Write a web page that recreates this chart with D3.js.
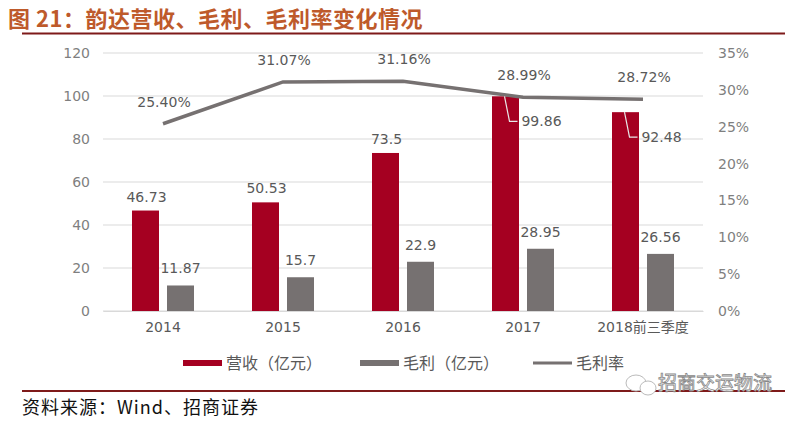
<!DOCTYPE html>
<html>
<head>
<meta charset="utf-8">
<script src="https://cdn.jsdelivr.net/npm/d3@7"></script>
<style>
  body { margin: 0; background: #fff; }
  svg text { font-family: "DejaVu Sans", "Noto Sans CJK SC", sans-serif; }
</style>
</head>
<body>
<div id="chart"></div>
<script>
// data
const years = ["2014", "2015", "2016", "2017", "2018前三季度"];
const revenue = [46.73, 50.53, 73.5, 99.86, 92.48];
const grossProfit = [11.87, 15.7, 22.9, 28.95, 26.56];
const grossMargin = [25.40, 31.07, 31.16, 28.99, 28.72];
const leftTicks = [0, 20, 40, 60, 80, 100, 120];
const rightTicks = [0, 5, 10, 15, 20, 25, 30, 35];

const W = 800, H = 422;
const red = "#A50021", gray = "#767171", lineGray = "#767171";
const cjk = '"Noto Sans CJK SC", sans-serif';

const svg = d3.select("#chart").append("svg")
  .attr("width", W).attr("height", H);

// title
svg.append("text")
  .attr("x", 8).attr("y", 17)
  .attr("dominant-baseline", "central")
  .attr("fill", "#BE5A2B")
  .attr("font-size", 22).attr("font-weight", "bold")
  .attr("letter-spacing", 0.5)
  .style("font-family", cjk)
  .text("图 21：韵达营收、毛利、毛利率变化情况");

svg.append("line")
  .attr("x1", 22).attr("x2", 785).attr("y1", 33.5).attr("y2", 33.5)
  .attr("stroke", "#7E1A1A").attr("stroke-width", 2);

const x = d3.scaleBand().domain(years).range([103, 703]);
const y = d3.scaleLinear().domain([0, 120]).range([311, 53]);
const y2 = d3.scaleLinear().domain([0, 35]).range([311, 53]);

// gridlines
svg.append("g").selectAll("line")
  .data(leftTicks).enter().append("line")
  .attr("x1", 103).attr("x2", 703)
  .attr("y1", d => y(d)).attr("y2", d => y(d))
  .attr("stroke", "#d9d9d9").attr("stroke-width", 1);

// left axis
const yAxis = svg.append("g")
  .attr("transform", "translate(90,0)")
  .call(d3.axisLeft(y).tickValues(leftTicks).tickSize(0).tickPadding(0));
yAxis.select(".domain").remove();
yAxis.selectAll("text").attr("fill", "#7f7f7f").attr("font-size", 14);

// right axis
const y2Axis = svg.append("g")
  .attr("transform", "translate(718,0)")
  .call(d3.axisRight(y2).tickValues(rightTicks).tickSize(0).tickPadding(0)
    .tickFormat(d => d + "%"));
y2Axis.select(".domain").remove();
y2Axis.selectAll("text").attr("fill", "#7f7f7f").attr("font-size", 14);

// x labels
const xAxis = svg.append("g")
  .attr("transform", "translate(0,311)")
  .call(d3.axisBottom(x).tickSize(0).tickPadding(11));
xAxis.select(".domain").attr("stroke", "#d9d9d9");
xAxis.selectAll("text").attr("fill", "#595959").attr("font-size", 14);

const barW = 27;
const off = 17.5;

// revenue bars
svg.append("g").selectAll("rect")
  .data(revenue).enter().append("rect")
  .attr("x", (d, i) => x(years[i]) + x.bandwidth() / 2 - off - barW / 2)
  .attr("y", d => y(d))
  .attr("width", barW)
  .attr("height", d => y(0) - y(d))
  .attr("fill", red);

// gross profit bars
svg.append("g").selectAll("rect")
  .data(grossProfit).enter().append("rect")
  .attr("x", (d, i) => x(years[i]) + x.bandwidth() / 2 + off - barW / 2)
  .attr("y", d => y(d))
  .attr("width", barW)
  .attr("height", d => y(0) - y(d))
  .attr("fill", gray);

// margin line
const line = d3.line()
  .x((d, i) => x(years[i]) + x.bandwidth() / 2)
  .y(d => y2(d));
svg.append("path")
  .datum(grossMargin)
  .attr("d", line)
  .attr("fill", "none")
  .attr("stroke", lineGray)
  .attr("stroke-width", 3.5);

const labelColor = "#595959";

// revenue labels: above bar, or beside it with a leader when it hits the line
revenue.forEach((d, i) => {
  const cx = x(years[i]) + x.bandwidth() / 2 - off;
  if (d > 90) {
    const ly = y(d) + 30;
    svg.append("path")
      .attr("d", `M${cx - 1},${y(d)} L${cx + 4},${ly - 5} L${cx + 12},${ly - 5}`)
      .attr("fill", "none").attr("stroke", "#e8e8e8").attr("stroke-width", 1.2);
    svg.append("text")
      .attr("x", cx + 36).attr("y", ly)
      .attr("text-anchor", "middle")
      .attr("fill", labelColor).attr("font-size", 14)
      .text(d);
  } else {
    svg.append("text")
      .attr("x", cx + 1).attr("y", y(d) - 9)
      .attr("text-anchor", "middle")
      .attr("fill", labelColor).attr("font-size", 14)
      .text(d);
  }
});

grossProfit.forEach((d, i) => {
  const cx = x(years[i]) + x.bandwidth() / 2 + off;
  svg.append("text")
    .attr("x", cx).attr("y", y(d) - 12)
    .attr("text-anchor", "middle")
    .attr("fill", labelColor).attr("font-size", 14)
    .text(d);
});

grossMargin.forEach((d, i) => {
  const cx = x(years[i]) + x.bandwidth() / 2;
  svg.append("text")
    .attr("x", cx + 1).attr("y", y2(d) - 17)
    .attr("text-anchor", "middle")
    .attr("fill", labelColor).attr("font-size", 14)
    .text(d.toFixed(2) + "%");
});

// legend
const legend = [
  { label: "营收（亿元）", color: red, x: 183, h: 6 },
  { label: "毛利（亿元）", color: gray, x: 360, h: 6 },
  { label: "毛利率", color: lineGray, x: 533, h: 3 }
];
const lg = svg.append("g").selectAll("g")
  .data(legend).enter().append("g")
  .attr("transform", d => `translate(${d.x},363)`);
lg.append("rect")
  .attr("x", 0).attr("y", d => -d.h / 2)
  .attr("width", 39).attr("height", d => d.h)
  .attr("fill", d => d.color);
lg.append("text")
  .attr("x", 43).attr("y", 6)
  .attr("fill", labelColor).attr("font-size", 16)
  .style("font-family", cjk)
  .text(d => d.label);

// bottom rule and source
svg.append("line")
  .attr("x1", 22).attr("x2", 785).attr("y1", 391).attr("y2", 391)
  .attr("stroke", "#7E1A1A").attr("stroke-width", 2);

svg.append("text")
  .attr("x", 22).attr("y", 414)
  .attr("fill", "#111").attr("font-size", 18)
  .attr("letter-spacing", 1)
  .style("font-family", cjk)
  .text("资料来源：Wind、招商证券");

// watermark
svg.append("ellipse")
  .attr("cx", 636).attr("cy", 383).attr("rx", 10).attr("ry", 8)
  .attr("fill", "#fff").attr("stroke", "#bbb").attr("stroke-width", 1);
svg.append("ellipse")
  .attr("cx", 648).attr("cy", 388).attr("rx", 8).attr("ry", 7)
  .attr("fill", "#fff").attr("stroke", "#bbb").attr("stroke-width", 1);
svg.append("text")
  .attr("x", 658).attr("y", 390)
  .attr("fill", "#fff").attr("stroke", "#888").attr("stroke-width", 0.8)
  .attr("font-size", 19)
  .style("font-family", cjk)
  .text("招商交运物流");
</script>
</body>
</html>
